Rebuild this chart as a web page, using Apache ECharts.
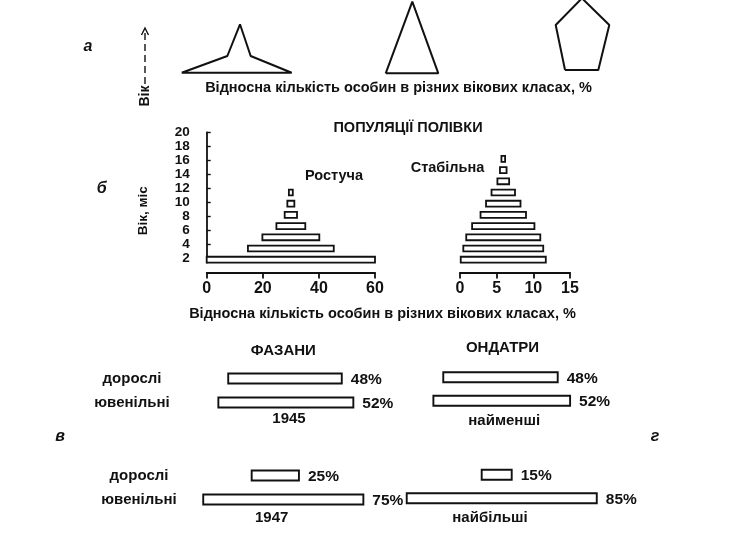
<!DOCTYPE html>
<html>
<head>
<meta charset="utf-8">
<script src="https://cdn.jsdelivr.net/npm/echarts@6/dist/echarts.min.js"></script>
<style>
  html, body { margin: 0; padding: 0; background: #fff; }
  #main { width: 740px; height: 533px; }
</style>
</head>
<body>
<div id="main"></div>
<script>
// а: схеми вікових пірамід, вершини у % від рамки [кількість, вік]
const shapeGrowing = [[0, 0], [41.5, 34.5], [53, 100], [62.7, 34.5], [100, 0], [0, 0]];
const shapeStable = [[0, 0], [50.6, 100], [100, 0], [0, 0]];
const shapeDeclining = [[17.4, 0], [0, 64.3], [49, 102.5], [100, 64.3], [79.5, 0], [17.4, 0]];

// б: популяції полівки, вік (міс) і частка особин (%)
const ageClasses = [1.8, 3.4, 5.0, 6.6, 8.2, 9.8, 11.4, 13.0, 14.6, 16.2];
const growingShares = [60, 30.6, 20.3, 10.3, 4.4, 2.5, 1.4];
const stableShares = [11.6, 10.9, 10.1, 8.5, 6.2, 4.7, 3.2, 1.6, 0.9, 0.5];
const ageTicks = [2, 4, 6, 8, 10, 12, 14, 16, 18, 20];

// в, г: фазани та ондатри
const groups = ['дорослі', 'ювенільні'];
const pheasant1945 = [48, 52];
const pheasant1947 = [25, 75];
const muskratLow = [48, 52];
const muskratHigh = [15, 85];
// межі смуг так, як вони намальовані (у % ширини ряду)
const pheasant1945Bars = [[16.6, 83.4], [10.8, 90.2]];
const pheasant1947Bars = [[30.4, 58.2], [1.9, 96.1]];
const muskratLowBars = [[20.6, 75.1], [15.9, 81.0]];
const muskratHighBars = [[38.9, 53.2], [3.2, 93.7]];

const INK = '#111';
const FONT = 'Liberation Sans';

const pyramidBar = (center) => (params, api) => {
  const age = api.value(0), w = api.value(1);
  const p1 = api.coord([center - w / 2, age + 0.42]);
  const p2 = api.coord([center + w / 2, age - 0.42]);
  return {
    type: 'rect',
    shape: { x: p1[0], y: p1[1], width: p2[0] - p1[0], height: p2[1] - p1[1] },
    style: { fill: '#fff', stroke: INK, lineWidth: 1.8 }
  };
};

const floatBar = (params, api) => {
  const s = api.coord([api.value(0), api.value(2)]);
  const e = api.coord([api.value(1), api.value(2)]);
  const h = 10;
  return {
    type: 'group',
    children: [
      { type: 'rect', shape: { x: s[0], y: s[1] - h / 2, width: e[0] - s[0], height: h },
        style: { fill: '#fff', stroke: INK, lineWidth: 1.9 } },
      { type: 'text', style: { text: api.value(3) + '%', x: e[0] + 9, y: s[1] + 1,
        verticalAlign: 'middle', align: 'left', fontFamily: FONT, fontWeight: 'bold', fontSize: 15.5, fill: INK } }
    ]
  };
};

const barData = (bars, pcts) => bars.map((b, i) => [b[0], b[1], i, pcts[i]]);

const hiddenValue = (gi, max) => ({ type: 'value', gridIndex: gi, min: 0, max: max, show: false });
const rowAxis = (gi, showLabels, margin) => ({
  type: 'category', gridIndex: gi, data: groups, inverse: true,
  axisLine: { show: false }, axisTick: { show: false },
  axisLabel: { show: showLabels, margin: margin, align: 'center',
    fontFamily: FONT, fontWeight: 'bold', fontSize: 15, color: INK }
});
const pyramidX = (gi, max, interval) => ({
  type: 'value', gridIndex: gi, min: 0, max: max, interval: interval, offset: 10,
  splitLine: { show: false },
  axisLine: { show: true, lineStyle: { color: INK, width: 1.8 } },
  axisTick: { show: true, length: 6, lineStyle: { color: INK, width: 1.8 } },
  axisLabel: { margin: 8, fontFamily: FONT, fontWeight: 'bold', fontSize: 16, color: INK }
});

const txt = (text, x, y, size, extra) => Object.assign({
  type: 'text', x: x, y: y,
  style: { text: text, align: 'center', verticalAlign: 'middle', fontFamily: FONT,
    fontWeight: 'bold', fontSize: size, fill: INK }
}, extra || {});
const letter = (text, x, y) => txt(text, x, y, 16, {
  style: { text: text, align: 'center', verticalAlign: 'middle', fontFamily: FONT,
    fontWeight: 'bold', fontStyle: 'italic', fontSize: 16, fill: INK }
});

const myChart = echarts.init(document.getElementById('main'));
myChart.setOption({
  animation: false,
  backgroundColor: '#fff',
  grid: [
    { left: 181.7, top: 24.3, width: 110, height: 48.4 },
    { left: 385.7, top: 1.7, width: 52.6, height: 71.6 },
    { left: 555.7, top: 0, width: 53.6, height: 70 },
    { left: 206.7, top: 132.3, width: 168.3, height: 130.2 },
    { left: 460, top: 132.3, width: 110, height: 130.2 },
    { left: 200, top: 366.5, width: 170, height: 48 },
    { left: 200, top: 463.5, width: 170, height: 48 },
    { left: 400, top: 365.5, width: 210, height: 47 },
    { left: 400, top: 463, width: 210, height: 47 }
  ],
  xAxis: [
    hiddenValue(0, 100), hiddenValue(1, 100), hiddenValue(2, 100),
    pyramidX(3, 60, 20), pyramidX(4, 15, 5),
    hiddenValue(5, 100), hiddenValue(6, 100), hiddenValue(7, 100), hiddenValue(8, 100)
  ],
  yAxis: [
    hiddenValue(0, 100), hiddenValue(1, 100), hiddenValue(2, 100),
    { type: 'value', gridIndex: 3, min: 1.4, max: 20, offset: 14,
      splitLine: { show: false },
      axisLine: { show: true, lineStyle: { color: INK, width: 1.8 } },
      axisTick: { show: true, inside: true, length: 4, customValues: ageTicks, lineStyle: { color: INK, width: 1.4 } },
      axisLabel: { margin: 3, customValues: ageTicks, fontFamily: FONT, fontWeight: 'bold', fontSize: 13.5, color: INK } },
    { type: 'value', gridIndex: 4, min: 1.4, max: 20, show: false },
    rowAxis(5, true, 68), rowAxis(6, true, 61), rowAxis(7, false, 0), rowAxis(8, false, 0)
  ],
  series: [
    ...[shapeGrowing, shapeStable, shapeDeclining].map((shape, i) => ({
      type: 'line', xAxisIndex: i, yAxisIndex: i, data: shape, symbol: 'none', clip: false,
      lineStyle: { color: INK, width: 2 }
    })),
    { type: 'custom', xAxisIndex: 3, yAxisIndex: 3, clip: false, renderItem: pyramidBar(30),
      data: growingShares.map((v, i) => [ageClasses[i], v]) },
    { type: 'custom', xAxisIndex: 4, yAxisIndex: 4, clip: false, renderItem: pyramidBar(5.9),
      data: stableShares.map((v, i) => [ageClasses[i], v]) },
    { type: 'custom', xAxisIndex: 5, yAxisIndex: 5, clip: false, renderItem: floatBar,
      data: barData(pheasant1945Bars, pheasant1945) },
    { type: 'custom', xAxisIndex: 6, yAxisIndex: 6, clip: false, renderItem: floatBar,
      data: barData(pheasant1947Bars, pheasant1947) },
    { type: 'custom', xAxisIndex: 7, yAxisIndex: 7, clip: false, renderItem: floatBar,
      data: barData(muskratLowBars, muskratLow) },
    { type: 'custom', xAxisIndex: 8, yAxisIndex: 8, clip: false, renderItem: floatBar,
      data: barData(muskratHighBars, muskratHigh) }
  ],
  graphic: [
    letter('а', 88, 47),
    txt('Вік', 145, 96, 14, { rotation: Math.PI / 2 }),
    { type: 'line', shape: { x1: 145, y1: 84, x2: 145, y2: 30 },
      style: { stroke: INK, lineWidth: 1.4, lineDash: [7, 4] } },
    { type: 'polyline', shape: { points: [[141.5, 35], [145, 28], [148.5, 35]] },
      style: { stroke: INK, lineWidth: 1.4, fill: null } },
    txt('Відносна кількість особин в різних вікових класах, %', 398.5, 88, 14.5),
    letter('б', 101.7, 189),
    txt('Вік, міс', 143.3, 210.8, 13.5, { rotation: Math.PI / 2 }),
    txt('ПОПУЛЯЦІЇ ПОЛІВКИ', 408, 128, 14.5),
    txt('Ростуча', 334, 176, 14.5),
    txt('Стабільна', 447.5, 168.3, 14.5),
    txt('Відносна кількість особин в різних вікових класах, %', 382.5, 314, 14.5),
    txt('ФАЗАНИ', 283.3, 350.7, 15),
    txt('ОНДАТРИ', 502.5, 348.3, 15),
    txt('1945', 289, 419.3, 15),
    txt('найменші', 504.2, 420.7, 15),
    txt('1947', 271.7, 518.3, 15),
    txt('найбільші', 490, 518.3, 15),
    letter('в', 60, 437),
    letter('г', 655, 437)
  ]
});
</script>
</body>
</html>
